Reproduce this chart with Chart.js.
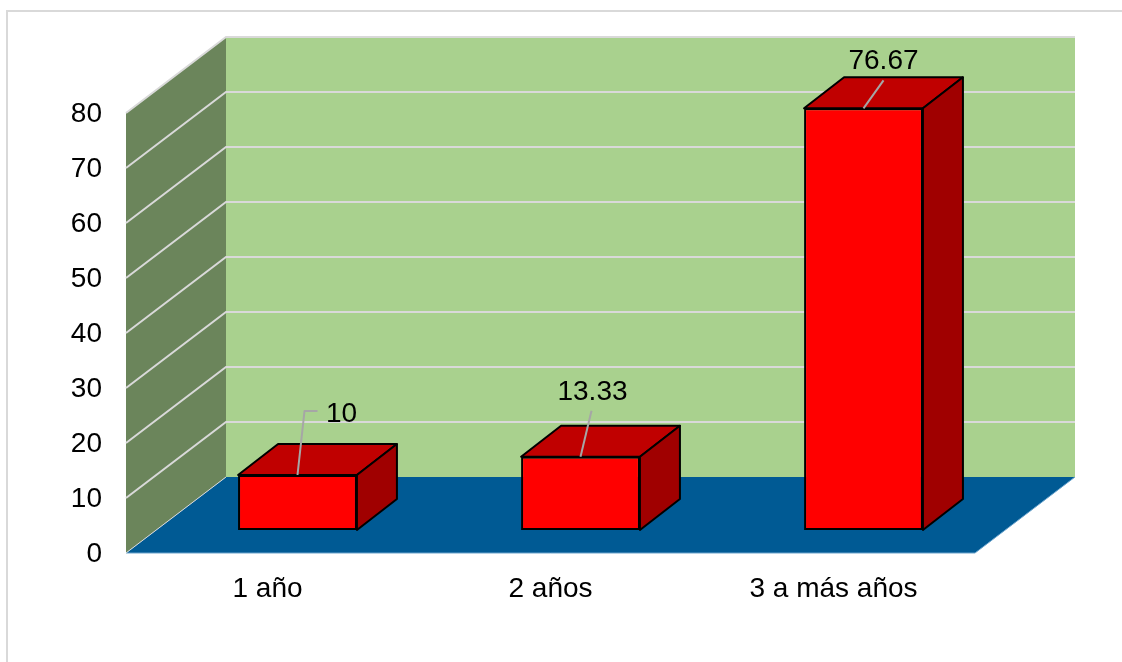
<!DOCTYPE html>
<html lang="es">
<head>
<meta charset="utf-8">
<title>Años</title>
<script src="https://cdn.jsdelivr.net/npm/chart.js@4"></script>
<style>
    html, body { margin: 0; padding: 0; background: #fff; overflow: hidden; }
    #wrap { position: relative; width: 1122px; height: 662px; }
    #frame {
        position: absolute; left: 6px; top: 10px; right: -4px; bottom: -4px;
        border: 2px solid #d9d9d9; pointer-events: none;
    }
    canvas { position: absolute; left: 0; top: 0; }
</style>
</head>
<body>
<div id="wrap">
    <canvas id="chart" width="1122" height="662"></canvas>
    <div id="frame"></div>
</div>
<script>
// ========================================
// DATA
// ========================================
const categories = ['1 año', '2 años', '3 a más años'];
const seriesValues = [10, 13.33, 76.67];
const axisMax = 80;
const axisStep = 10;

// ========================================
// 3D BOX SETTINGS
// ========================================
const wallDepth = { x: 100, y: -76 };
const barShift = { x: 30, y: -23 };
const barDepth = { x: 40, y: -31 };

// Leader line points and label anchor, relative to the bar's front top centre
const leaders = [
    { points: [[0, 0], [7, -64], [20, -64]], label: [44, -61] },
    { points: [[0, 0], [11, -46]], label: [12, -64] },
    { points: [[0, 0], [20, -28]], label: [20, -47] }
];

const colors = {
    backWall: '#a9d18e',
    sideWall: '#6b855b',
    floor: '#005a94',
    floorEdge: '#6aa3cc',
    grid: '#d9d9d9',
    front: '#ff0000',
    top: '#c00000',
    side: '#a00000',
    edge: '#000000',
    leader: '#a6a6a6',
    text: '#000000'
};

const fontFamily = '"Liberation Sans", Arial, sans-serif';

function polygon(ctx, pts, fill, stroke, lineWidth) {
    ctx.beginPath();
    pts.forEach((p, i) => i ? ctx.lineTo(p[0], p[1]) : ctx.moveTo(p[0], p[1]));
    ctx.closePath();
    ctx.fillStyle = fill;
    ctx.fill();
    if (stroke) {
        ctx.strokeStyle = stroke;
        ctx.lineWidth = lineWidth;
        ctx.lineJoin = 'round';
        ctx.stroke();
    }
}

// ========================================
// WALLS AND FLOOR
// ========================================
const wallsPlugin = {
    id: 'walls',
    beforeDatasetsDraw(chart) {
        const { ctx, scales: { x, y } } = chart;
        const dx = wallDepth.x, dy = wallDepth.y;
        const left = x.left, right = x.right;
        const zero = y.getPixelForValue(0), top = y.getPixelForValue(axisMax);

        ctx.save();
        polygon(ctx, [[left + dx, top + dy], [right + dx, top + dy], [right + dx, zero + dy], [left + dx, zero + dy]], colors.backWall);
        polygon(ctx, [[left, top], [left + dx, top + dy], [left + dx, zero + dy], [left, zero]], colors.sideWall);
        polygon(ctx, [[left, zero], [right, zero], [right + dx, zero + dy], [left + dx, zero + dy]], colors.floor);

        // front and right floor edges are a lighter blue
        ctx.strokeStyle = colors.floorEdge;
        ctx.lineWidth = 1;
        ctx.beginPath();
        ctx.moveTo(left, zero);
        ctx.lineTo(right, zero);
        ctx.lineTo(right + dx, zero + dy);
        ctx.stroke();

        // gridlines run along the side wall and across the back wall
        ctx.strokeStyle = colors.grid;
        y.ticks.forEach(tick => {
            const py = y.getPixelForValue(tick.value);
            ctx.lineWidth = tick.value === 0 ? 1 : 2;
            ctx.beginPath();
            ctx.moveTo(left, py);
            ctx.lineTo(left + dx, py + dy);
            if (tick.value !== 0) ctx.lineTo(right + dx, py + dy);
            ctx.stroke();
        });
        ctx.restore();
    },

    // ========================================
    // BAR SIDES (front face comes from the bar element itself)
    // ========================================
    beforeDatasetDraw(chart, args) {
        const { ctx } = chart;
        const meta = chart.getDatasetMeta(args.index);
        const dx = barDepth.x, dy = barDepth.y;
        ctx.save();
        ctx.translate(barShift.x, barShift.y);
        meta.data.forEach(bar => {
            const l = bar.x - bar.width / 2, r = bar.x + bar.width / 2;
            const t = bar.y, b = bar.base;
            polygon(ctx, [[l, t], [r, t], [r + dx, t + dy], [l + dx, t + dy]], colors.top, colors.edge, 2);
            polygon(ctx, [[r, t], [r + dx, t + dy], [r + dx, b + dy], [r, b]], colors.side, colors.edge, 2);
        });
    },

    afterDatasetDraw(chart, args) {
        const { ctx } = chart;
        const meta = chart.getDatasetMeta(args.index);
        meta.data.forEach((bar, i) => {
            const leader = leaders[i];
            ctx.beginPath();
            leader.points.forEach((p, j) => {
                const px = bar.x + p[0], py = bar.y + p[1];
                j ? ctx.lineTo(px, py) : ctx.moveTo(px, py);
            });
            ctx.strokeStyle = colors.leader;
            ctx.lineWidth = 2;
            ctx.stroke();

            ctx.fillStyle = colors.text;
            ctx.font = '28px ' + fontFamily;
            ctx.textAlign = 'center';
            ctx.textBaseline = 'middle';
            ctx.fillText(String(seriesValues[i]), bar.x + leader.label[0], bar.y + leader.label[1]);
        });
        ctx.restore();
    }
};

// ========================================
// CHART
// ========================================
new Chart(document.getElementById('chart').getContext('2d'), {
    type: 'bar',
    data: {
        labels: categories,
        datasets: [{
            data: seriesValues,
            backgroundColor: colors.front,
            borderColor: colors.edge,
            borderWidth: 2,
            borderSkipped: false,
            categoryPercentage: 1,
            barPercentage: 0.42
        }]
    },
    plugins: [wallsPlugin],
    options: {
        responsive: false,
        animation: false,
        layout: { padding: { top: 113, right: 147, left: 0, bottom: 0 } },
        plugins: {
            legend: { display: false },
            tooltip: { enabled: false }
        },
        scales: {
            x: {
                grid: { display: false, drawTicks: false },
                border: { display: false },
                afterFit(scale) { scale.height = 109; },
                ticks: {
                    color: colors.text,
                    padding: 19,
                    maxRotation: 0,
                    font: { family: fontFamily, size: 28 }
                }
            },
            y: {
                min: 0,
                max: axisMax,
                grid: { display: false, drawTicks: false },
                border: { display: false },
                afterFit(scale) { scale.width = 126; },
                ticks: {
                    stepSize: axisStep,
                    color: colors.text,
                    padding: 24,
                    labelOffset: 1,
                    font: { family: fontFamily, size: 28 }
                }
            }
        }
    }
});
</script>
</body>
</html>
